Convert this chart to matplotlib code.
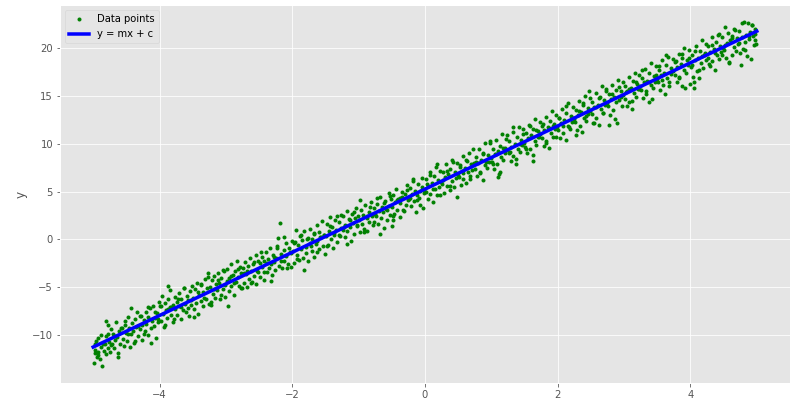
import matplotlib
matplotlib.use("Agg")
import matplotlib.pyplot as plt

# (x, y) pairs, left to right
points = [
    (-4.99, -12.9), (-4.98, -11.9), (-4.97, -11.5), (-4.96, -10.6), (-4.95, -12.3), (-4.93, -11.8), (-4.92, -10.3), (-4.90, -12.5),
    (-4.88, -11.2), (-4.86, -13.2), (-4.85, -10.9), (-4.83, -11.7), (-4.81, -10.1), (-4.80, -12.0), (-4.80, -8.5), (-4.78, -9.9), (-4.77, -11.3), (-4.76, -10.7),
    (-4.74, -11.8), (-4.73, -9.4), (-4.71, -10.9), (-4.70, -9.9), (-4.69, -11.3), (-4.67, -10.5), (-4.66, -8.6), (-4.64, -10.2),
    (-4.62, -12.3), (-4.61, -9.6), (-4.59, -10.9), (-4.57, -9.2), (-4.55, -10.4), (-4.54, -11.1), (-4.52, -8.9), (-4.51, -9.8),
    (-4.49, -10.6), (-4.48, -8.1), (-4.46, -9.3), (-4.45, -11.2), (-4.43, -9.9), (-4.42, -8.7), (-4.40, -9.6), (-4.39, -10.8),
    (-4.37, -8.3), (-4.35, -9.1), (-4.34, -7.6), (-4.32, -10.1), (-4.30, -9.4), (-4.29, -8.0), (-4.27, -8.9), (-4.26, -10.5),
    (-4.24, -8.4), (-4.23, -9.9), (-4.21, -7.6), (-4.20, -8.8), (-4.18, -10.0), (-4.17, -8.1), (-4.15, -7.2), (-4.13, -9.3),
    (-4.12, -8.5), (-4.10, -6.9), (-4.09, -9.0), (-4.07, -8.2), (-4.05, -10.3), (-4.04, -7.7), (-4.02, -8.6), (-4.01, -6.5),
    (-3.99, -7.0), (-3.98, -8.5), (-3.96, -5.9), (-3.95, -7.8), (-3.93, -9.1), (-3.92, -6.6), (-3.90, -7.4), (-3.89, -8.2),
    (-3.87, -6.2), (-3.87, -4.9), (-3.85, -7.1), (-3.84, -5.3), (-3.82, -7.9), (-3.80, -6.8), (-3.79, -8.6), (-3.77, -6.0), (-3.76, -7.3),
    (-3.74, -6.5), (-3.73, -7.9), (-3.71, -5.6), (-3.70, -6.9), (-3.68, -8.3), (-3.67, -6.2), (-3.65, -7.4), (-3.63, -5.1),
    (-3.62, -6.7), (-3.60, -7.6), (-3.59, -5.9), (-3.57, -6.3), (-3.55, -8.0), (-3.54, -5.4), (-3.52, -6.8), (-3.51, -4.9),
    (-3.49, -6.1), (-3.48, -7.3), (-3.46, -5.2), (-3.45, -6.6), (-3.43, -4.5), (-3.42, -7.8), (-3.40, -5.8), (-3.38, -6.4),
    (-3.37, -4.8), (-3.35, -5.5), (-3.34, -7.0), (-3.32, -4.1), (-3.30, -6.2), (-3.29, -5.1), (-3.27, -3.9), (-3.26, -6.7),
    (-3.24, -5.0), (-3.23, -6.5), (-3.21, -4.2), (-3.20, -5.7), (-3.18, -3.8), (-3.17, -6.1), (-3.15, -4.7), (-3.13, -5.3),
    (-3.12, -3.5), (-3.10, -4.5), (-3.09, -6.2), (-3.07, -4.0), (-3.05, -5.2), (-3.04, -3.2), (-3.02, -4.8), (-3.01, -6.0),
    (-2.99, -4.3), (-2.98, -3.1), (-2.96, -5.4), (-2.95, -4.0), (-2.93, -2.6), (-2.92, -4.9), (-2.90, -3.7), (-2.88, -5.8),
    (-2.87, -3.3), (-2.85, -4.4), (-2.84, -2.2), (-2.82, -3.9), (-2.80, -4.9), (-2.79, -2.9), (-2.77, -3.5), (-2.76, -5.1),
    (-2.74, -3.0), (-2.73, -4.6), (-2.71, -2.4), (-2.70, -3.6), (-2.68, -5.0), (-2.67, -2.8), (-2.65, -4.1), (-2.63, -1.9),
    (-2.62, -3.3), (-2.60, -4.4), (-2.59, -2.6), (-2.57, -3.8), (-2.55, -1.6), (-2.54, -4.7), (-2.52, -2.3), (-2.51, -3.4),
    (-2.49, -2.5), (-2.48, -3.9), (-2.46, -1.8), (-2.45, -2.9), (-2.43, -4.2), (-2.42, -2.2), (-2.40, -1.3), (-2.38, -3.4),
    (-2.37, -2.0), (-2.35, -3.0), (-2.34, -0.9), (-2.32, -2.6), (-2.30, -3.7), (-2.29, -1.6), (-2.27, -2.4), (-2.26, -3.2),
    (-2.24, -1.9), (-2.23, -0.7), (-2.21, 0.2), (-2.18, 1.7), (-2.20, -2.8), (-2.17, -1.5), (-2.15, -3.0), (-2.13, -1.1),
    (-2.12, -2.2), (-2.10, -0.4), (-2.09, -1.7), (-2.07, -2.6), (-2.05, -0.9), (-2.04, -1.3), (-2.02, -2.9), (-2.01, -0.2),
    (-1.99, -1.2), (-1.98, -2.5), (-1.96, -0.3), (-1.95, 1.0), (-1.93, -1.6), (-1.92, -0.6), (-1.90, -2.1), (-1.88, 0.4),
    (-1.87, -1.0), (-1.85, -0.1), (-1.84, -1.9), (-1.82, 0.9), (-1.80, -0.8), (-1.79, -1.4), (-1.77, 0.2), (-1.76, -2.3),
    (-1.74, -0.4), (-1.73, 1.1), (-1.71, -1.2), (-1.70, 0.1), (-1.68, -1.8), (-1.67, 0.6), (-1.65, -0.5), (-1.63, 1.5),
    (-1.62, -0.2), (-1.60, 0.8), (-1.59, -1.0), (-1.57, 0.3), (-1.55, 1.9), (-1.54, -0.7), (-1.52, 0.5), (-1.51, -1.5),
    (-1.49, 0.4), (-1.48, 1.6), (-1.46, -0.6), (-1.45, 0.9), (-1.43, 2.3), (-1.42, 0.0), (-1.40, 1.3), (-1.38, -0.9),
    (-1.37, 0.7), (-1.35, 2.0), (-1.34, 1.0), (-1.32, -0.3), (-1.30, 1.8), (-1.29, 0.5), (-1.27, 2.6), (-1.26, 1.2),
    (-1.24, 1.0), (-1.23, 2.4), (-1.21, 0.3), (-1.20, 1.5), (-1.18, 3.0), (-1.17, 0.9), (-1.15, 2.1), (-1.13, 1.3),
    (-1.12, -0.2), (-1.10, 2.7), (-1.09, 1.7), (-1.07, 0.6), (-1.05, 2.2), (-1.04, 3.3), (-1.02, 1.4), (-1.01, 2.5),
    (-0.99, 2.0), (-0.98, 0.8), (-0.96, 3.1), (-0.95, 1.6), (-0.93, 2.6), (-0.92, 1.1), (-0.90, 3.6), (-0.88, 2.2),
    (-0.87, 0.9), (-0.85, 2.9), (-0.84, 1.8), (-0.82, 3.9), (-0.80, 2.4), (-0.79, 1.5), (-0.77, 3.3), (-0.76, 2.7),
    (-0.74, 2.5), (-0.73, 3.7), (-0.71, 1.6), (-0.70, 3.0), (-0.68, 4.4), (-0.67, 2.2), (-0.65, 3.4), (-0.63, 2.9),
    (-0.62, 1.2), (-0.60, 4.0), (-0.59, 3.2), (-0.57, 2.0), (-0.55, 4.9), (-0.54, 3.5), (-0.52, 2.6), (-0.51, 4.2),
    (-0.50, 1.4), (-0.49, 3.4), (-0.48, 4.6), (-0.48, 2.0), (-0.46, 2.7), (-0.45, 3.9), (-0.43, 5.3), (-0.42, 3.1), (-0.40, 4.2),
    (-0.38, 2.3), (-0.37, 3.8), (-0.35, 5.0), (-0.34, 4.4), (-0.32, 3.0), (-0.30, 4.8), (-0.29, 3.6), (-0.27, 5.7), (-0.26, 4.1),
    (-0.24, 4.2), (-0.23, 5.4), (-0.21, 3.5), (-0.20, 4.8), (-0.18, 6.1), (-0.17, 4.0), (-0.15, 5.1), (-0.13, 2.9),
    (-0.12, 4.6), (-0.10, 5.8), (-0.09, 4.3), (-0.07, 3.6), (-0.05, 5.5), (-0.04, 6.4), (-0.02, 4.9), (-0.01, 5.2),
    (0.01, 5.0), (0.02, 6.3), (0.04, 4.2), (0.05, 5.6), (0.07, 7.0), (0.08, 4.8), (0.10, 5.9), (0.12, 3.9),
    (0.13, 6.6), (0.15, 5.3), (0.16, 7.6), (0.18, 4.6), (0.20, 6.2), (0.21, 5.5), (0.23, 7.2), (0.24, 6.0),
    (0.26, 5.8), (0.27, 7.1), (0.29, 4.9), (0.30, 6.5), (0.32, 7.9), (0.33, 5.6), (0.35, 6.8), (0.37, 5.2),
    (0.38, 7.4), (0.40, 6.1), (0.41, 8.3), (0.43, 5.5), (0.45, 7.0), (0.46, 6.4), (0.48, 8.0), (0.49, 6.7),
    (0.51, 6.5), (0.52, 7.8), (0.54, 5.7), (0.55, 7.2), (0.57, 8.7), (0.58, 6.3), (0.60, 7.5), (0.62, 5.9),
    (0.63, 8.2), (0.65, 7.0), (0.66, 9.0), (0.68, 6.6), (0.70, 7.9), (0.71, 7.3), (0.73, 9.4), (0.74, 8.0),
    (0.76, 7.4), (0.77, 8.6), (0.79, 6.6), (0.80, 8.0), (0.82, 9.5), (0.83, 7.1), (0.85, 8.3), (0.87, 6.2),
    (0.88, 9.0), (0.90, 7.8), (0.91, 10.1), (0.93, 7.5), (0.95, 8.8), (0.96, 8.1), (0.98, 10.3), (0.99, 8.5),
    (1.01, 8.1), (1.02, 9.5), (1.04, 7.4), (1.05, 8.9), (1.07, 10.4), (1.08, 7.9), (1.10, 9.2), (1.10, 6.5), (1.12, 6.8),
    (1.13, 9.8), (1.15, 8.6), (1.16, 11.0), (1.18, 8.3), (1.20, 9.6), (1.21, 9.0), (1.23, 10.9), (1.24, 9.3),
    (1.26, 9.0), (1.27, 10.3), (1.29, 8.2), (1.30, 9.7), (1.32, 11.2), (1.33, 8.7), (1.35, 10.0), (1.37, 7.9),
    (1.38, 10.7), (1.40, 9.5), (1.41, 11.8), (1.43, 9.1), (1.45, 10.4), (1.46, 9.9), (1.48, 11.5), (1.49, 10.1),
    (1.51, 9.7), (1.52, 11.1), (1.54, 9.0), (1.55, 10.6), (1.57, 12.0), (1.58, 9.5), (1.60, 10.9), (1.62, 8.8),
    (1.63, 11.5), (1.65, 10.3), (1.66, 12.6), (1.68, 9.9), (1.70, 11.3), (1.71, 10.7), (1.73, 12.3), (1.74, 11.0),
    (1.76, 10.6), (1.77, 11.9), (1.79, 9.8), (1.80, 11.4), (1.82, 12.8), (1.83, 10.3), (1.85, 11.7), (1.87, 9.6),
    (1.88, 12.4), (1.90, 11.1), (1.91, 13.4), (1.93, 10.7), (1.95, 12.1), (1.96, 11.5), (1.98, 13.0), (1.99, 11.8),
    (2.01, 11.4), (2.02, 12.7), (2.04, 10.6), (2.05, 12.2), (2.07, 13.6), (2.08, 11.1), (2.10, 12.5), (2.12, 10.4),
    (2.13, 13.2), (2.15, 11.9), (2.16, 14.3), (2.18, 11.5), (2.20, 12.9), (2.21, 12.3), (2.23, 13.8), (2.24, 12.6),
    (2.26, 12.3), (2.27, 13.5), (2.29, 11.4), (2.30, 13.0), (2.32, 14.5), (2.33, 11.9), (2.35, 13.3), (2.37, 11.2),
    (2.38, 14.0), (2.40, 12.7), (2.41, 15.0), (2.43, 12.4), (2.45, 13.7), (2.46, 13.1), (2.48, 14.8), (2.49, 13.4),
    (2.51, 13.1), (2.52, 14.4), (2.54, 12.2), (2.55, 13.8), (2.57, 15.3), (2.58, 12.7), (2.60, 14.1), (2.62, 12.0),
    (2.63, 14.9), (2.65, 13.6), (2.66, 16.0), (2.68, 13.2), (2.70, 14.6), (2.71, 14.0), (2.73, 15.5), (2.74, 14.3),
    (2.76, 13.9), (2.77, 15.2), (2.79, 13.0), (2.80, 14.7), (2.82, 16.1), (2.83, 13.5), (2.85, 14.9), (2.87, 12.6),
    (2.88, 15.6), (2.90, 12.2), (2.91, 16.7), (2.93, 14.6), (2.95, 15.5), (2.96, 14.9), (2.98, 16.4), (2.99, 15.1),
    (3.01, 14.7), (3.02, 16.0), (3.04, 13.9), (3.05, 15.5), (3.07, 17.0), (3.08, 14.4), (3.10, 15.8), (3.12, 13.6),
    (3.13, 16.6), (3.15, 15.3), (3.16, 17.4), (3.18, 14.9), (3.20, 16.2), (3.21, 15.7), (3.23, 17.2), (3.24, 16.0),
    (3.26, 15.6), (3.27, 16.9), (3.29, 14.8), (3.30, 16.4), (3.32, 17.8), (3.33, 15.2), (3.35, 16.6), (3.37, 14.4),
    (3.38, 17.4), (3.40, 16.1), (3.41, 18.4), (3.43, 15.8), (3.45, 17.1), (3.46, 16.5), (3.48, 18.1), (3.49, 16.8),
    (3.51, 16.4), (3.52, 17.7), (3.54, 15.6), (3.55, 17.2), (3.57, 18.7), (3.58, 16.1), (3.60, 17.4), (3.62, 15.2),
    (3.63, 18.2), (3.65, 16.9), (3.66, 19.1), (3.68, 16.5), (3.70, 17.9), (3.71, 17.3), (3.73, 18.9), (3.74, 17.6),
    (3.76, 17.2), (3.77, 18.5), (3.79, 16.4), (3.80, 18.0), (3.82, 19.4), (3.83, 16.9), (3.85, 18.3), (3.87, 16.0),
    (3.88, 19.0), (3.90, 17.7), (3.91, 20.0), (3.93, 17.4), (3.95, 18.7), (3.96, 18.2), (3.98, 19.8), (3.99, 16.2),
    (4.01, 18.0), (4.02, 19.3), (4.04, 17.0), (4.05, 15.8), (4.06, 16.5), (4.07, 18.7), (4.08, 20.2), (4.10, 17.6),
    (4.12, 19.0), (4.13, 16.9), (4.15, 19.7), (4.16, 18.4), (4.18, 20.8), (4.19, 17.9), (4.21, 19.3), (4.23, 18.8), (4.24, 20.4),
    (4.26, 19.0), (4.27, 20.2), (4.29, 18.1), (4.30, 19.6), (4.32, 21.1), (4.33, 18.6), (4.35, 19.9), (4.37, 17.7),
    (4.38, 20.6), (4.40, 19.3), (4.41, 21.4), (4.43, 18.9), (4.45, 20.2), (4.46, 19.6), (4.48, 21.2), (4.49, 20.0),
    (4.51, 19.8), (4.52, 22.2), (4.54, 19.0), (4.55, 20.5), (4.57, 21.6), (4.58, 18.4), (4.60, 20.8), (4.62, 19.3),
    (4.63, 21.3), (4.65, 20.1), (4.66, 22.0), (4.68, 19.7), (4.70, 21.0), (4.71, 20.4), (4.73, 21.8), (4.74, 19.5),
    (4.76, 18.2), (4.77, 21.1), (4.79, 19.9), (4.80, 22.7), (4.82, 20.6), (4.84, 21.4), (4.85, 19.2), (4.86, 22.6),
    (4.88, 20.9), (4.89, 21.7), (4.91, 18.9), (4.92, 22.4), (4.94, 21.3), (4.95, 20.3), (4.97, 22.0), (4.98, 21.5), (4.99, 20.4),
    # second pass over the band, points between the ones above
    (-4.975, -10.9), (-4.925, -12.1), (-4.875, -10.0), (-4.825, -10.9), (-4.775, -8.9), (-4.725, -11.0), (-4.675, -10.1), (-4.625, -11.9),
    (-4.575, -9.3), (-4.525, -8.5), (-4.475, -9.9), (-4.425, -7.2), (-4.375, -10.6), (-4.325, -9.0), (-4.275, -8.0), (-4.225, -9.6),
    (-4.175, -7.1), (-4.125, -10.8), (-4.075, -7.6), (-4.025, -8.3), (-3.975, -6.9), (-3.925, -8.9), (-3.875, -7.3), (-3.825, -7.1),
    (-3.775, -8.3), (-3.725, -6.2), (-3.675, -7.1), (-3.625, -5.1), (-3.575, -7.2), (-3.525, -6.3), (-3.475, -8.1), (-3.425, -5.5),
    (-3.375, -4.7), (-3.325, -6.1), (-3.275, -3.5), (-3.225, -6.8), (-3.175, -5.2), (-3.125, -4.2), (-3.075, -5.8), (-3.025, -3.3),
    (-2.975, -7.0), (-2.925, -3.8), (-2.875, -4.5), (-2.825, -3.1), (-2.775, -5.1), (-2.725, -3.5), (-2.675, -3.3), (-2.625, -4.5),
    (-2.575, -2.4), (-2.525, -3.3), (-2.475, -1.3), (-2.425, -3.4), (-2.375, -2.5), (-2.325, -4.3), (-2.275, -1.8), (-2.225, -0.9),
    (-2.175, -2.3), (-2.125, 0.3), (-2.075, -3.0), (-2.025, -1.4), (-1.975, -0.4), (-1.925, -2.0), (-1.875, 0.5), (-1.825, -3.2),
    (-1.775, 0.0), (-1.725, -0.7), (-1.675, 0.7), (-1.625, -1.3), (-1.575, 0.3), (-1.525, 0.5), (-1.475, -0.7), (-1.425, 1.4),
    (-1.375, 0.5), (-1.325, 2.5), (-1.275, 0.4), (-1.225, 1.3), (-1.175, -0.5), (-1.125, 2.0), (-1.075, 2.9), (-1.025, 1.5),
    (-0.975, 4.1), (-0.925, 0.8), (-0.875, 2.4), (-0.825, 3.4), (-0.775, 1.8), (-0.725, 4.3), (-0.675, 0.6), (-0.625, 3.8),
    (-0.575, 3.1), (-0.525, 4.5), (-0.475, 2.5), (-0.425, 4.1), (-0.375, 4.3), (-0.325, 3.1), (-0.275, 5.2), (-0.225, 4.3),
    (-0.175, 6.3), (-0.125, 4.1), (-0.075, 5.1), (-0.025, 3.3), (0.025, 5.8), (0.075, 6.7), (0.125, 5.3), (0.175, 7.9),
    (0.225, 4.6), (0.275, 6.2), (0.325, 7.2), (0.375, 5.6), (0.425, 8.1), (0.475, 4.4), (0.525, 7.6), (0.575, 6.9),
    (0.625, 8.3), (0.675, 6.3), (0.725, 7.9), (0.775, 8.1), (0.825, 6.9), (0.875, 8.9), (0.925, 8.1), (0.975, 10.1),
    (1.025, 7.9), (1.075, 8.9), (1.125, 7.1), (1.175, 9.6), (1.225, 10.5), (1.275, 9.1), (1.325, 11.7), (1.375, 8.4),
    (1.425, 10.0), (1.475, 11.0), (1.525, 9.4), (1.575, 11.9), (1.625, 8.2), (1.675, 11.4), (1.725, 10.7), (1.775, 12.1),
    (1.825, 10.1), (1.875, 11.6), (1.925, 11.9), (1.975, 10.7), (2.025, 12.7), (2.075, 11.9), (2.125, 13.9), (2.175, 11.7),
    (2.225, 12.7), (2.275, 10.9), (2.325, 13.4), (2.375, 14.3), (2.425, 12.9), (2.475, 15.5), (2.525, 12.2), (2.575, 13.8),
    (2.625, 14.8), (2.675, 13.2), (2.725, 15.7), (2.775, 12.0), (2.825, 15.2), (2.875, 14.4), (2.925, 15.9), (2.975, 13.9),
    (3.025, 15.4), (3.075, 15.7), (3.125, 14.5), (3.175, 16.5), (3.225, 15.7), (3.275, 17.7), (3.325, 15.5), (3.375, 16.5),
    (3.425, 14.7), (3.475, 17.2), (3.525, 18.1), (3.575, 16.7), (3.625, 19.3), (3.675, 16.0), (3.725, 17.6), (3.775, 18.6),
    (3.825, 17.0), (3.875, 19.4), (3.925, 15.8), (3.975, 19.0), (4.025, 18.2), (4.075, 19.7), (4.125, 17.7), (4.175, 19.2),
    (4.225, 19.5), (4.275, 18.3), (4.325, 20.3), (4.375, 19.5), (4.425, 21.5), (4.475, 19.3), (4.525, 20.3), (4.575, 18.5),
    (4.625, 21.0), (4.675, 21.9), (4.725, 20.5), (4.775, 22.6), (4.825, 19.8), (4.875, 21.3), (4.925, 22.4), (4.975, 20.8),
]
x_data = [p[0] for p in points]
y_data = [p[1] for p in points]

# fitted line, endpoints
line_x = [-5.0, 5.0]
line_y = [-11.24, 21.76]

plt.style.use('ggplot')
fig = plt.figure(figsize=(801 / 72, 403 / 72), dpi=72)
ax = fig.add_axes([60 / 801, 20 / 403, 730 / 801, 378 / 403])

ax.plot(x_data, y_data, 'g.', label='Data points')
ax.plot(line_x, line_y, 'b-', linewidth=3.5, label='y = mx + c')
ax.set_ylabel('y')
ax.legend(loc='upper left')

fig.savefig('out.png', dpi=72)
